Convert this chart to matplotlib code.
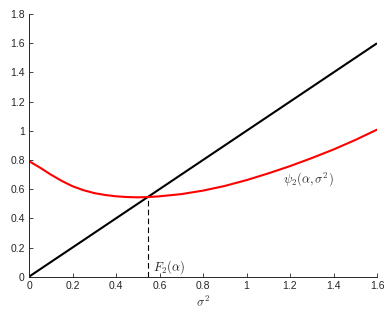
import matplotlib
matplotlib.use("Agg")
import matplotlib.pyplot as plt

plt.rcParams['font.family'] = ['Liberation Sans', 'DejaVu Sans']
plt.rcParams['mathtext.fontset'] = 'cm'

# data
sigma2 = [0.0, 0.05, 0.1, 0.15, 0.2, 0.25, 0.3, 0.35, 0.4, 0.45, 0.5, 0.55, 0.6, 0.7, 0.8, 0.9,
          1.0, 1.1, 1.2, 1.3, 1.4, 1.5, 1.6]
psi2 = [0.792, 0.748, 0.700, 0.657, 0.620, 0.593, 0.573, 0.560, 0.551, 0.546, 0.544, 0.546, 0.551,
        0.566, 0.590, 0.622, 0.662, 0.708, 0.758, 0.813, 0.872, 0.937, 1.008]
line_x = [0.0, 1.6]
line_y = [0.0, 1.6]
fixed_point = 0.546

xticks = [0, 0.2, 0.4, 0.6, 0.8, 1, 1.2, 1.4, 1.6]
xticklabels = ['0', '0.2', '0.4', '0.6', '0.8', '1', '1.2', '1.4', '1.6']
yticks = [0, 0.2, 0.4, 0.6, 0.8, 1, 1.2, 1.4, 1.6, 1.8]
yticklabels = ['0', '0.2', '0.4', '0.6', '0.8', '1', '1.2', '1.4', '1.6', '1.8']

fig = plt.figure(figsize=(3.9, 3.13), dpi=100)
ax = fig.add_axes([0.0744, 0.116, 0.8923, 0.839])

ax.plot(line_x, line_y, color='black', lw=1.5, solid_capstyle='butt')
ax.plot(sigma2, psi2, color='#ff0000', lw=1.5)
ax.plot([fixed_point, fixed_point], [0, fixed_point], color='black', lw=0.8,
        dashes=(5, 3))

ax.text(1.168, 0.667, r'$\psi_2(\alpha,\sigma^2)$', fontsize=9, va='center', ha='left',
        color='#333333')
ax.text(0.569, 0.008, r'$F_2(\alpha)$', fontsize=9, va='bottom', ha='left', color='#222222')
ax.set_xlabel(r'$\sigma^2$', fontsize=9, labelpad=3, color='#333333')

ax.set_xlim(0, 1.6)
ax.set_ylim(0, 1.8)
ax.set_xticks(xticks)
ax.set_xticklabels(xticklabels)
ax.set_yticks(yticks)
ax.set_yticklabels(yticklabels)
ax.tick_params(direction='in', length=3, width=0.6, labelsize=7.5, colors='#262626', pad=3)
for s in ['top', 'right']:
    ax.spines[s].set_visible(False)
for s in ['left', 'bottom']:
    ax.spines[s].set_linewidth(0.7)
    ax.spines[s].set_color('#262626')

fig.savefig('out.png', dpi=100)
